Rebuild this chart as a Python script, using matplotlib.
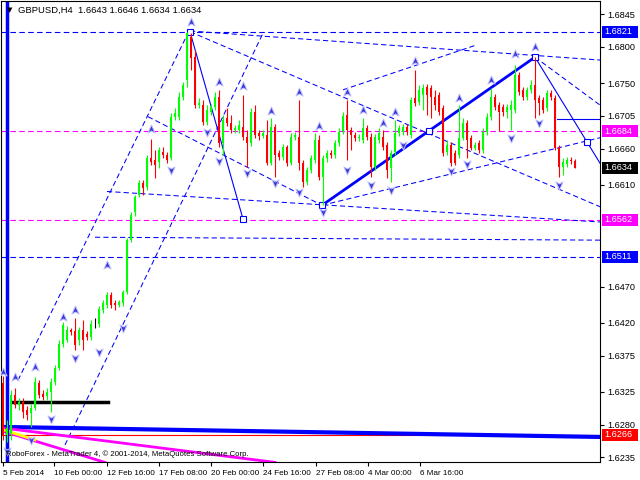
import matplotlib
matplotlib.use("Agg")
import matplotlib.pyplot as plt
import matplotlib.transforms as mtransforms
from matplotlib.patches import Rectangle
from matplotlib.path import Path
import numpy as np

plt.rcParams["font.family"] = ["Liberation Sans", "DejaVu Sans"]

# GBPUSD H4 candles
opn = [1.6337, 1.6266, 1.6268, 1.6321, 1.6307, 1.6311, 1.6300, 1.6296, 1.6303, 1.6337, 1.6322, 1.6319,
       1.6325, 1.6339, 1.6358, 1.6391, 1.6397, 1.6410, 1.6409, 1.6397, 1.6410, 1.6405, 1.6401, 1.6421,
       1.6419, 1.6438, 1.6445, 1.6458, 1.6447, 1.6445, 1.6447, 1.6463, 1.6534, 1.6573, 1.6596, 1.6613,
       1.6607, 1.6647, 1.6644, 1.6642, 1.6655, 1.6651, 1.6647, 1.6704, 1.6704, 1.6731, 1.6755, 1.6814,
       1.6786, 1.6720, 1.6720, 1.6697, 1.6710, 1.6717, 1.6731, 1.6668, 1.6702, 1.6695, 1.6686, 1.6686,
       1.6690, 1.6676, 1.6668, 1.6710, 1.6682, 1.6677, 1.6679, 1.6640, 1.6690, 1.6654, 1.6649, 1.6662,
       1.6640, 1.6676, 1.6676, 1.6640, 1.6614, 1.6631, 1.6644, 1.6672, 1.6621, 1.6647, 1.6654, 1.6651,
       1.6668, 1.6684, 1.6706, 1.6686, 1.6679, 1.6675, 1.6672, 1.6688, 1.6676, 1.6635, 1.6672, 1.6676,
       1.6665, 1.6633, 1.6655, 1.6682, 1.6683, 1.6690, 1.6679, 1.6730, 1.6724, 1.6734, 1.6745, 1.6743,
       1.6731, 1.6734, 1.6716, 1.6655, 1.6665, 1.6654, 1.6651, 1.6675, 1.6695, 1.6675, 1.6661, 1.6668,
       1.6658, 1.6683, 1.6704, 1.6731, 1.6720, 1.6717, 1.6710, 1.6713, 1.6713, 1.6761, 1.6741, 1.6731,
       1.6741, 1.6748, 1.6730, 1.6727, 1.6716, 1.6737, 1.6730, 1.6661, 1.6635, 1.6639, 1.6645, 1.6643]
high = [1.6347, 1.6286, 1.6328, 1.6330, 1.6317, 1.6317, 1.6306, 1.6308, 1.6346, 1.6341, 1.6328, 1.6330,
        1.6344, 1.6362, 1.6397, 1.6421, 1.6416, 1.6413, 1.6427, 1.6414, 1.6424, 1.6409, 1.6424, 1.6427,
        1.6443, 1.6452, 1.6463, 1.6463, 1.6452, 1.6452, 1.6465, 1.6537, 1.6573, 1.6596, 1.6617, 1.6617,
        1.6651, 1.6673, 1.6658, 1.6662, 1.6662, 1.6655, 1.6709, 1.6716, 1.6738, 1.6752, 1.6821, 1.6819,
        1.6796, 1.6730, 1.6727, 1.6720, 1.6722, 1.6738, 1.6741, 1.6706, 1.6716, 1.6706, 1.6693, 1.6699,
        1.6734, 1.6686, 1.6716, 1.6720, 1.6686, 1.6686, 1.6699, 1.6702, 1.6694, 1.6658, 1.6666, 1.6665,
        1.6682, 1.6683, 1.6727, 1.6644, 1.6635, 1.6651, 1.6682, 1.6679, 1.6651, 1.6658, 1.6658, 1.6672,
        1.6688, 1.6710, 1.6727, 1.6690, 1.6683, 1.6680, 1.6702, 1.6693, 1.6682, 1.6680, 1.6688, 1.6686,
        1.6669, 1.6658, 1.6699, 1.6693, 1.6694, 1.6694, 1.6731, 1.6768, 1.6748, 1.6749, 1.6749, 1.6748,
        1.6741, 1.6738, 1.6720, 1.6672, 1.6669, 1.6658, 1.6720, 1.6702, 1.6699, 1.6679, 1.6669, 1.6672,
        1.6688, 1.6709, 1.6743, 1.6735, 1.6724, 1.6722, 1.6722, 1.6727, 1.6775, 1.6766, 1.6745, 1.6745,
        1.6755, 1.6786, 1.6734, 1.6731, 1.6741, 1.6741, 1.6734, 1.6665, 1.6647, 1.6649, 1.6649, 1.6646]
low = [1.6259, 1.6256, 1.6259, 1.6303, 1.6300, 1.6289, 1.6286, 1.6277, 1.6300, 1.6317, 1.6314, 1.6314,
       1.6297, 1.6335, 1.6355, 1.6387, 1.6394, 1.6403, 1.6383, 1.6390, 1.6383, 1.6397, 1.6397, 1.6413,
       1.6414, 1.6434, 1.6441, 1.6441, 1.6438, 1.6442, 1.6443, 1.6460, 1.6531, 1.6567, 1.6593, 1.6596,
       1.6603, 1.6638, 1.6620, 1.6633, 1.6647, 1.6640, 1.6644, 1.6699, 1.6699, 1.6727, 1.6745, 1.6768,
       1.6716, 1.6716, 1.6693, 1.6693, 1.6706, 1.6713, 1.6662, 1.6651, 1.6691, 1.6682, 1.6682, 1.6682,
       1.6672, 1.6635, 1.6664, 1.6675, 1.6672, 1.6675, 1.6638, 1.6638, 1.6621, 1.6644, 1.6644, 1.6636,
       1.6638, 1.6672, 1.6631, 1.6607, 1.6610, 1.6626, 1.6640, 1.6617, 1.6582, 1.6642, 1.6647, 1.6647,
       1.6664, 1.6680, 1.6644, 1.6658, 1.6670, 1.6670, 1.6668, 1.6672, 1.6621, 1.6631, 1.6668, 1.6658,
       1.6620, 1.6614, 1.6651, 1.6677, 1.6679, 1.6679, 1.6675, 1.6719, 1.6720, 1.6713, 1.6706, 1.6702,
       1.6713, 1.6706, 1.6650, 1.6651, 1.6636, 1.6638, 1.6647, 1.6672, 1.6647, 1.6658, 1.6658, 1.6654,
       1.6654, 1.6679, 1.6699, 1.6713, 1.6684, 1.6705, 1.6702, 1.6686, 1.6709, 1.6734, 1.6727, 1.6727,
       1.6737, 1.6702, 1.6706, 1.6709, 1.6712, 1.6727, 1.6658, 1.6621, 1.6624, 1.6635, 1.6639, 1.6634]
close = [1.6266, 1.6275, 1.6321, 1.6307, 1.6311, 1.6297, 1.6293, 1.6303, 1.6339, 1.6321, 1.6318, 1.6325,
         1.6339, 1.6358, 1.6391, 1.6417, 1.6410, 1.6407, 1.6390, 1.6410, 1.6397, 1.6401, 1.6419, 1.6421,
         1.6439, 1.6447, 1.6458, 1.6445, 1.6445, 1.6449, 1.6463, 1.6534, 1.6569, 1.6593, 1.6613, 1.6606,
         1.6647, 1.6642, 1.6638, 1.6658, 1.6651, 1.6644, 1.6704, 1.6709, 1.6731, 1.6748, 1.6819, 1.6785,
         1.6720, 1.6723, 1.6697, 1.6713, 1.6717, 1.6731, 1.6668, 1.6699, 1.6695, 1.6686, 1.6688, 1.6693,
         1.6676, 1.6668, 1.6710, 1.6679, 1.6677, 1.6682, 1.6640, 1.6690, 1.6651, 1.6649, 1.6662, 1.6640,
         1.6676, 1.6679, 1.6640, 1.6614, 1.6631, 1.6647, 1.6672, 1.6621, 1.6647, 1.6654, 1.6651, 1.6668,
         1.6683, 1.6705, 1.6686, 1.6679, 1.6675, 1.6676, 1.6688, 1.6676, 1.6635, 1.6676, 1.6682, 1.6662,
         1.6631, 1.6654, 1.6682, 1.6688, 1.6690, 1.6683, 1.6727, 1.6723, 1.6741, 1.6743, 1.6734, 1.6731,
         1.6720, 1.6710, 1.6654, 1.6665, 1.6640, 1.6640, 1.6675, 1.6695, 1.6672, 1.6661, 1.6665, 1.6658,
         1.6683, 1.6704, 1.6731, 1.6717, 1.6710, 1.6710, 1.6717, 1.6720, 1.6761, 1.6738, 1.6731, 1.6741,
         1.6748, 1.6727, 1.6723, 1.6713, 1.6737, 1.6731, 1.6661, 1.6635, 1.6642, 1.6644, 1.6643, 1.6634]

# fractal arrows (bar, price)
frac_up_bar = [0, 3, 8, 15, 18, 26, 37, 47, 54, 60, 67, 74, 79, 86, 90, 95, 98, 103, 114, 122, 128, 133]
frac_up_px = [1.6353, 1.6346, 1.6359, 1.6428, 1.6438, 1.6500, 1.6687, 1.6834, 1.6752, 1.6746, 1.6712, 1.6738,
              1.6691, 1.6738, 1.6713, 1.6695, 1.6710, 1.6781, 1.6730, 1.6755, 1.6790, 1.6800]
frac_dn_bar = [1, 7, 12, 18, 24, 30, 42, 51, 54, 61, 68, 74, 80, 86, 92, 97, 100, 112, 116, 127, 134, 139]
frac_dn_px = [1.6243, 1.6259, 1.6288, 1.6372, 1.6380, 1.6413, 1.6631, 1.6683, 1.6643, 1.6626, 1.6613, 1.6600,
              1.6573, 1.6631, 1.6610, 1.6603, 1.6665, 1.6629, 1.6639, 1.6675, 1.6695, 1.6610]

# price levels shown on the right scale
hlevels = [1.6821, 1.6684, 1.6562, 1.6511, 1.6266]
hlevel_cols = ["#0000ff", "#ff00ff", "#ff00ff", "#0000ff", "#ff0000"]
yticks = [1.6845, 1.6800, 1.6750, 1.6705, 1.6660, 1.6610, 1.6470, 1.6420, 1.6375, 1.6325, 1.6280, 1.6235]
xtick_pos = [0, 12.75, 25.9, 39.1, 52, 65.1, 78.2, 91.2, 104.25]
xtick_lab = ["5 Feb 2014", "10 Feb 00:00", "12 Feb 16:00", "17 Feb 08:00", "20 Feb 00:00",
             "24 Feb 16:00", "27 Feb 08:00", "4 Mar 00:00", "6 Mar 16:00"]

# drawn objects: (bar1, price1, bar2, price2)
dash_lines = [
    (3.75, 1.6341, 46.25, 1.6819),
    (15.5, 1.6252, 65.0, 1.6819),
    (46.75, 1.6822, 149.25, 1.6782),
    (46.75, 1.6821, 149.25, 1.6580),
    (26.0, 1.6601, 149.25, 1.6559),
    (23.0, 1.6538, 149.25, 1.6534),
    (36.25, 1.6704, 79.75, 1.6582),
    (133.0, 1.6786, 149.25, 1.6720),
    (79.75, 1.6582, 149.25, 1.6675),
    (85.0, 1.6741, 118.5, 1.6803),
]
thin_lines = [
    (46.75, 1.6821, 60.0, 1.6563),
    (133.0, 1.6786, 149.25, 1.6640),
    (138.5, 1.6701, 149.25, 1.6701),
]
thick_line = (79.75, 1.6582, 133.0, 1.6786)
anchor_bar = [46.75, 60.0, 79.75, 106.5, 133.0, 146.0]
anchor_px = [1.6821, 1.6563, 1.6582, 1.6684, 1.6786, 1.6669]

opn, high, low, close = map(np.array, (opn, high, low, close))
idx = np.arange(len(close))

fig = plt.figure(figsize=(6.4, 4.8), dpi=100)
ax = fig.add_axes([1 / 640, 18 / 480, 599 / 640, 461 / 480])
ax.set_xlim(-0.5, 149.25)
ax.set_ylim(1.62285, 1.68633)

# horizontal levels
for lv, c in zip(hlevels, hlevel_cols):
    if c == "#ff0000":
        ax.axhline(lv, color=c, lw=0.8, zorder=1)
    else:
        ax.axhline(lv, color=c, lw=0.8, dashes=(5, 3), zorder=1)

for x1, y1, x2, y2 in dash_lines:
    ax.plot([x1, x2], [y1, y2], color="#0000ff", lw=0.75, dashes=(5, 3), zorder=1)
for x1, y1, x2, y2 in thin_lines:
    ax.plot([x1, x2], [y1, y2], color="#0000ff", lw=0.8, zorder=3)
ax.plot([thick_line[0], thick_line[2]], [thick_line[1], thick_line[3]], color="#0000ff", lw=2, zorder=3)
ax.plot(anchor_bar, anchor_px, ls="none", marker="s", ms=4, mfc="white", mec="#0000ff", mew=0.8, zorder=4)

# bottom-left drawings
ax.plot([0.5, 149.25], [1.62767, 1.6263], color="#0000ff", lw=3, zorder=2)
ax.plot([0.5, 68], [1.6275, 1.6228], color="#ff00ff", lw=2, zorder=2)
ax.plot([0.5, 25.5], [1.6270, 1.6228], color="#ff00ff", lw=2, zorder=2)
ax.plot([0.5, 8], [1.6272, 1.6259], color="#ffff00", lw=2, zorder=2)
ax.plot([2.5, 26.25], [1.6311, 1.6311], color="black", lw=2.5, zorder=2)
ax.axvline(1.0, color="#0000ff", lw=2.5, zorder=2)

# candles
cols = np.where(close > opn, "#00ff00", np.where(close < opn, "#ff0000", "black"))
ax.vlines(idx, low, high, colors=cols, lw=0.8, zorder=5)
body = np.maximum(np.abs(close - opn), 0.00004)
ax.bar(idx, body, bottom=np.minimum(opn, close), width=0.72, color=cols, lw=0, zorder=5)

# fractal arrows
arrow_up = Path([(0, 1), (0.8, -0.8), (0, -0.35), (-0.8, -0.8), (0, 1)],
                [Path.MOVETO, Path.LINETO, Path.LINETO, Path.LINETO, Path.CLOSEPOLY])
arrow_dn = Path([(0, -1), (0.8, 0.8), (0, 0.35), (-0.8, 0.8), (0, -1)],
                [Path.MOVETO, Path.LINETO, Path.LINETO, Path.LINETO, Path.CLOSEPOLY])
ax.plot(frac_up_bar, frac_up_px, ls="none", marker=arrow_up, ms=6.5, mfc="#3a3ad8", mec="#c0c0ff", mew=0.7, zorder=6)
ax.plot(frac_dn_bar, frac_dn_px, ls="none", marker=arrow_dn, ms=6.5, mfc="#3a3ad8", mec="#c0c0ff", mew=0.7, zorder=6)

# axes styling
for s in ax.spines.values():
    s.set_color("black")
    s.set_linewidth(0.8)
ax.yaxis.tick_right()
ax.set_yticks(yticks)
ax.set_yticklabels([f"{v:.4f}" for v in yticks])
ax.set_xticks(xtick_pos)
ax.set_xticklabels(xtick_lab, ha="left")
ax.tick_params(axis="both", length=3, width=0.8, colors="black", pad=2)
ax.tick_params(axis="y", labelsize=6.6)
ax.tick_params(axis="x", labelsize=5.9, pad=3)

# price boxes on the right scale
tr = mtransforms.blended_transform_factory(ax.transAxes, ax.transData)
box_h = 12 / 7262
for lv, c in zip(hlevels + [close[-1]], hlevel_cols + ["black"]):
    ax.add_patch(Rectangle((1.0033, lv - box_h / 2), 0.0601, box_h, transform=tr, fc=c, ec="none",
                           clip_on=False, zorder=10))
    ax.text(1.0067, lv, f"{lv:.4f}", transform=tr, color="white", fontsize=6.6, va="center", ha="left",
            zorder=11, clip_on=False)

# captions
fig.text(7 / 640, 1 - 10 / 480, "\u25bc", fontsize=5, va="center", ha="left", family="DejaVu Sans")
fig.text(18 / 640, 1 - 10 / 480, "GBPUSD,H4  1.6643 1.6646 1.6634 1.6634", fontsize=6.8, va="center", ha="left")
fig.text(6 / 640, 1 - 454 / 480, "RoboForex - MetaTrader 4, \u00a9 2001-2014, MetaQuotes Software Corp.",
         fontsize=5.6, va="center", ha="left")

fig.savefig("out.png", dpi=100, facecolor="white")
